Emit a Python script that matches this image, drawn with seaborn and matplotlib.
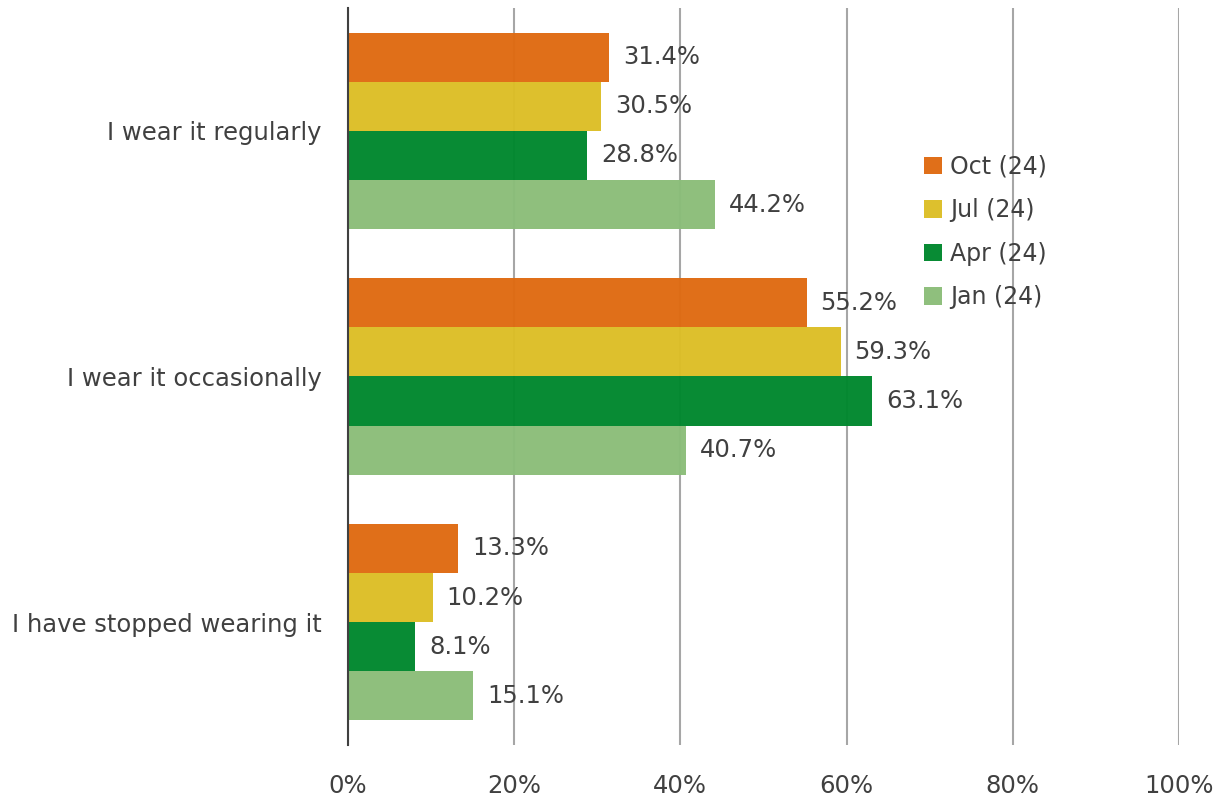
import pandas as pd
import matplotlib.pyplot as plt
import seaborn as sns
from matplotlib.ticker import FuncFormatter

# Survey answers and the four waves
answers = ['I wear it regularly', 'I wear it occasionally', 'I have stopped wearing it']
waves = ['Oct (24)', 'Jul (24)', 'Apr (24)', 'Jan (24)']

oct_24 = [31.4, 55.2, 13.3]
jul_24 = [30.5, 59.3, 10.2]
apr_24 = [28.8, 63.1, 8.1]
jan_24 = [44.2, 40.7, 15.1]

colors = ['#DF6A11', '#DCBE26', '#00872D', '#8BBD79']
text_color = '#404040'
fs = 17.5

# Build a long table for seaborn
rows = []
for wave, vals in zip(waves, [oct_24, jul_24, apr_24, jan_24]):
    for answer, v in zip(answers, vals):
        rows.append({'answer': answer, 'wave': wave, 'pct': v})
df = pd.DataFrame(rows)

sns.set_style('white')
plt.rcParams['font.family'] = ['DejaVu Sans']

fig = plt.figure(figsize=(12.21, 7.99), dpi=100)
ax = fig.add_axes([0.285, 0.0676, 0.6805, 0.9224])

sns.barplot(data=df, y='answer', x='pct', hue='wave', order=answers,
            hue_order=waves, palette=colors, orient='h', width=0.8,
            saturation=1, alpha=0.97, linewidth=0, ax=ax, zorder=2)

# Value labels
for container in ax.containers:
    ax.bar_label(container, labels=[f'{b.get_width():.1f}%' for b in container],
                 padding=10, fontsize=fs, color=text_color)

ax.set_xlim(0, 100)
ax.set_ylim(2.5, -0.5)
ax.set_xticks([0, 20, 40, 60, 80, 100])
ax.xaxis.set_major_formatter(FuncFormatter(lambda v, p: f'{v:.0f}%'))
ax.tick_params(axis='x', labelsize=fs, colors=text_color, length=0, pad=21)
ax.tick_params(axis='y', labelsize=fs, colors=text_color, length=0, pad=19)
ax.set_xlabel('')
ax.set_ylabel('')

ax.xaxis.grid(True, color='#A6A6A6', linewidth=1.5, zorder=1)
ax.set_axisbelow(True)
for side in ['top', 'right', 'bottom']:
    ax.spines[side].set_visible(False)
ax.spines['left'].set_color('#404040')
ax.spines['left'].set_linewidth(1.5)

leg = ax.legend(loc='upper left', bbox_to_anchor=(0.668, 0.83), frameon=False,
                fontsize=17, handlelength=0.75, handleheight=0.75,
                handletextpad=0.35, labelspacing=0.83)
for t in leg.get_texts():
    t.set_color(text_color)

fig.savefig('out.png', dpi=100)
